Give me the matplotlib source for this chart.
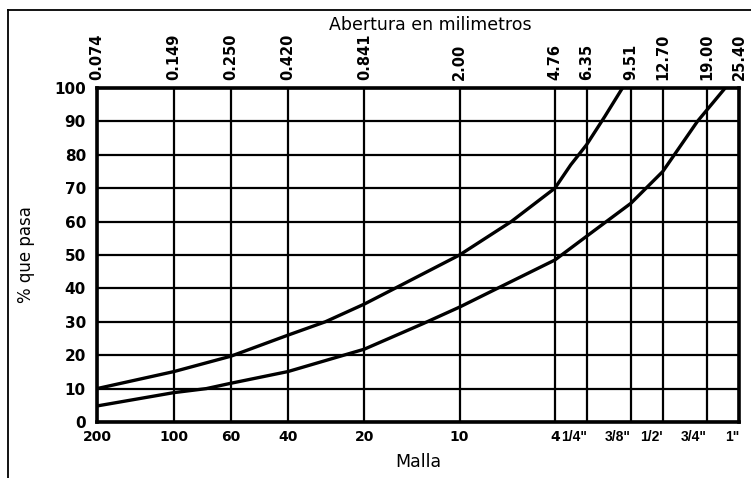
import matplotlib
matplotlib.use("Agg")
import matplotlib.pyplot as plt
from matplotlib.lines import Line2D

# sieve openings (mm) and their mesh names
abertura = [0.074, 0.149, 0.250, 0.420, 0.841, 2.00, 4.76, 6.35, 9.51, 12.70, 19.00, 25.40]
abertura_txt = ["0.074", "0.149", "0.250", "0.420", "0.841", "2.00", "4.76", "6.35",
                "9.51", "12.70", "19.00", "25.40"]
malla = ["200", "100", "60", "40", "20", "10", "4", "1/4\"", "3/8\"", "1/2'", "3/4\"", "1\""]

pct_ticks = [0, 10, 20, 30, 40, 50, 60, 70, 80, 90, 100]

# upper limit curve (fine side)
sup_mm = [0.074, 0.149, 0.25, 0.42, 0.59, 0.841, 1.11, 2.0, 3.2, 4.76, 5.5, 6.35, 7.5, 8.8]
sup_pct = [10, 15.1, 19.7, 26, 30, 35.3, 40, 50, 60, 70, 77, 83, 91.5, 100]

# lower limit curve (coarse side)
inf_mm = [0.074, 0.149, 0.20, 0.25, 0.42, 0.841, 1.44, 2.0, 2.82, 4.76, 6.35, 9.51, 12.7, 17.4, 22.4]
inf_pct = [4.8, 8.8, 10, 11.6, 15.1, 21.8, 29.5, 34.4, 40, 48.5, 55.6, 65.5, 75, 90, 100]

fig = plt.figure(figsize=(7.51, 4.78), dpi=100)
ax = fig.add_axes([97/751, 1 - 422/478, (739-97)/751, (422-88)/478])

ax.set_xscale("log")
ax.set_xlim(0.074, 25.4)
ax.set_ylim(0, 100)

for x in abertura:
    ax.axvline(x, color="k", lw=1.6, zorder=1)
for y in pct_ticks:
    ax.axhline(y, color="k", lw=1.6, zorder=1)

ax.plot(sup_mm, sup_pct, color="k", lw=2.4, zorder=3)
ax.plot(inf_mm, inf_pct, color="k", lw=2.4, zorder=3)

ax.minorticks_off()
ax.set_xticks(abertura)
ax.set_xticklabels(malla, fontsize=10, fontweight="bold")
# inch sizes sit just left of their lines, narrower type
for lbl in ax.get_xticklabels()[7:]:
    lbl.set_horizontalalignment("right")
    lbl.set_family(["Liberation Sans", "DejaVu Sans"])
    lbl.set_fontsize(10)
    lbl.set_fontweight("bold")
ax.set_yticks(pct_ticks)
ax.set_yticklabels([str(v) for v in pct_ticks], fontsize=11, fontweight="bold")
ax.tick_params(length=0, pad=8)
ax.tick_params(axis="x", pad=6)

top = ax.secondary_xaxis("top")
top.minorticks_off()
top.set_xticks(abertura)
top.set_xticklabels(abertura_txt, rotation=90, fontsize=10.5, fontweight="bold",
                    family=["Liberation Sans Narrow", "DejaVu Sans"])
top.tick_params(length=0, pad=6)
top.spines["top"].set_visible(False)

for s in ax.spines.values():
    s.set_linewidth(2.6)

ax.set_xlabel("Malla", fontsize=12.5, labelpad=6)
ax.set_ylabel("% que pasa", fontsize=12, labelpad=14)

fig.text(430/751, 1 - 25/478, "Abertura en milimetros", fontsize=12.5, ha="center", va="center")

# outer frame of the figure
fig.add_artist(Line2D([8/751, 8/751], [0, 1 - 10/478], color="k", lw=1.3, transform=fig.transFigure))
fig.add_artist(Line2D([8/751, 1], [1 - 10/478, 1 - 10/478], color="k", lw=1.3, transform=fig.transFigure))

fig.savefig("out.png", dpi=100)
